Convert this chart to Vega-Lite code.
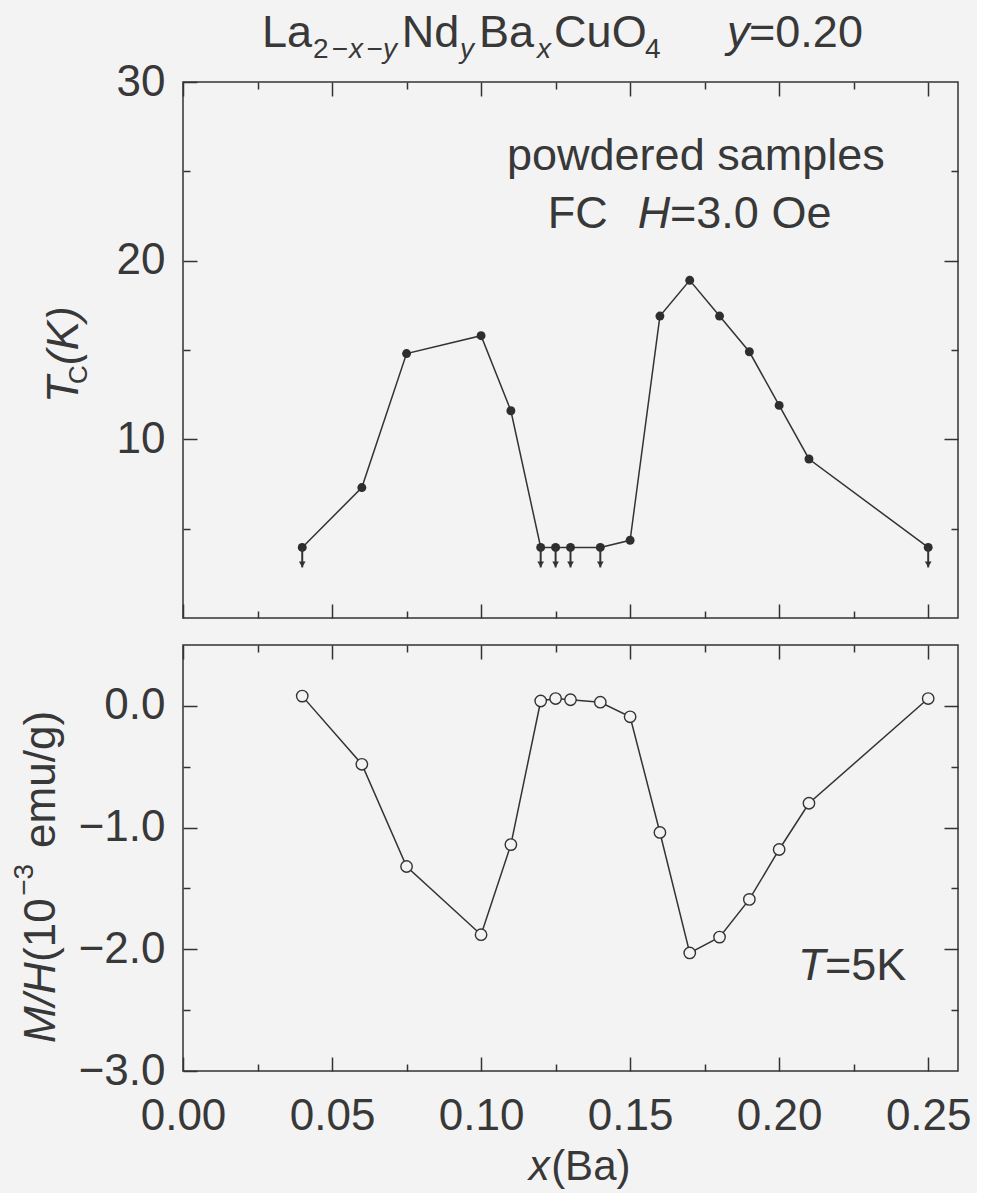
{
  "$schema": "https://vega.github.io/schema/vega-lite/v6.json",
  "background": "#f3f3f4",
  "padding": {"left": 10, "top": 10, "right": 5, "bottom": 5},
  "spacing": 23,
  "config": {
    "view": {"stroke": "#333333", "strokeWidth": 1.5},
    "axis": {"domain": false, "grid": false, "tickColor": "#333333", "tickWidth": 1.5, "labelFont": "Liberation Sans", "labelFontSize": 44, "labelColor": "#383838", "labelFlush": false, "labelOverlap": false, "labelBound": false},
    "text": {"font": "Liberation Sans", "color": "#383838"}
  },
  "datasets": {
    "tc": [
      {"x": 0.04, "y": 3.95, "limit": true},
      {"x": 0.06, "y": 7.3, "limit": false},
      {"x": 0.075, "y": 14.8, "limit": false},
      {"x": 0.10, "y": 15.8, "limit": false},
      {"x": 0.11, "y": 11.6, "limit": false},
      {"x": 0.12, "y": 3.95, "limit": true},
      {"x": 0.125, "y": 3.95, "limit": true},
      {"x": 0.13, "y": 3.95, "limit": true},
      {"x": 0.14, "y": 3.95, "limit": true},
      {"x": 0.15, "y": 4.35, "limit": false},
      {"x": 0.16, "y": 16.9, "limit": false},
      {"x": 0.17, "y": 18.9, "limit": false},
      {"x": 0.18, "y": 16.9, "limit": false},
      {"x": 0.19, "y": 14.9, "limit": false},
      {"x": 0.20, "y": 11.9, "limit": false},
      {"x": 0.21, "y": 8.9, "limit": false},
      {"x": 0.25, "y": 3.95, "limit": true}
    ],
    "mh": [
      {"x": 0.04, "y": 0.08},
      {"x": 0.06, "y": -0.48},
      {"x": 0.075, "y": -1.32},
      {"x": 0.10, "y": -1.88},
      {"x": 0.11, "y": -1.14},
      {"x": 0.12, "y": 0.04},
      {"x": 0.125, "y": 0.06},
      {"x": 0.13, "y": 0.05},
      {"x": 0.14, "y": 0.03},
      {"x": 0.15, "y": -0.09},
      {"x": 0.16, "y": -1.04},
      {"x": 0.17, "y": -2.03},
      {"x": 0.18, "y": -1.90},
      {"x": 0.19, "y": -1.59},
      {"x": 0.20, "y": -1.18},
      {"x": 0.21, "y": -0.80},
      {"x": 0.25, "y": 0.06}
    ],
    "topBig": [
      {"x": 0.0265, "y": 31.96, "t": "La"},
      {"x": 0.0734, "y": 31.96, "t": "Nd"},
      {"x": 0.0993, "y": 31.96, "t": "Ba"},
      {"x": 0.1245, "y": 31.96, "t": "CuO"},
      {"x": 0.1899, "y": 31.96, "t": "=0.20"},
      {"x": 0.1087, "y": 25.08, "t": "powdered samples"},
      {"x": 0.1224, "y": 21.83, "t": "FC"},
      {"x": 0.1634, "y": 21.83, "t": "=3.0 Oe"}
    ],
    "topBigIt": [
      {"x": 0.1825, "y": 31.96, "t": "y"},
      {"x": 0.1526, "y": 21.83, "t": "H"}
    ],
    "topSub": [
      {"x": 0.0436, "y": 31.34, "t": "2"},
      {"x": 0.0499, "y": 31.34, "t": "−"},
      {"x": 0.0616, "y": 31.34, "t": "−"},
      {"x": 0.1550, "y": 31.34, "t": "4"}
    ],
    "topSubIt": [
      {"x": 0.0557, "y": 31.34, "t": "x"},
      {"x": 0.0671, "y": 31.34, "t": "y"},
      {"x": 0.0929, "y": 31.34, "t": "y"},
      {"x": 0.1188, "y": 31.34, "t": "x"}
    ],
    "topRotIt": [
      {"x": -0.0352, "y": 12.04, "t": "T"},
      {"x": -0.0352, "y": 14.16, "t": "(K)"}
    ],
    "topRotSub": [
      {"x": -0.0322, "y": 13.10, "t": "C"}
    ],
    "botBig": [
      {"x": 0.2154, "y": -2.251, "t": "=5K"}
    ],
    "botBigIt": [
      {"x": 0.2063, "y": -2.251, "t": "T"}
    ],
    "xTitle": [
      {"x": 0.1235, "y": -3.895, "t": "(Ba)"}
    ],
    "xTitleIt": [
      {"x": 0.1160, "y": -3.895, "t": "x"}
    ],
    "botRotIt": [
      {"x": -0.0429, "y": -2.769, "t": "M/H"}
    ],
    "botRot": [
      {"x": -0.0429, "y": -2.104, "t": "(10"},
      {"x": -0.0429, "y": -1.167, "t": "emu/g)"}
    ],
    "botRotSup": [
      {"x": -0.0503, "y": -1.561, "t": "−3"}
    ]
  },
  "vconcat": [
    {
      "width": 775,
      "height": 536,
      "resolve": {"axis": {"x": "independent", "y": "independent"}},
      "layer": [
        {
          "mark": {"type": "rule", "color": "#333333", "strokeWidth": 1.5},
          "encoding": {
            "y": {"datum": 3.95, "type": "quantitative", "scale": {"domain": [0, 30], "nice": false, "zero": false}, "axis": null}
          }
        },
        {
          "data": {"name": "tc"},
          "mark": {"type": "line", "color": "#333333", "strokeWidth": 1.5},
          "encoding": {
            "x": {"field": "x", "type": "quantitative", "scale": {"domain": [0, 0.26], "nice": false, "zero": false},
                  "axis": {"orient": "bottom", "values": [0, 0.05, 0.1, 0.15, 0.2, 0.25], "tickSize": -14, "labels": false, "title": null}},
            "y": {"field": "y", "type": "quantitative", "scale": {"domain": [0, 30], "nice": false, "zero": false},
                  "axis": {"orient": "left", "values": [10, 20, 30], "tickSize": -14, "labelPadding": 32, "format": "d", "title": null}}
          }
        },
        {
          "data": {"name": "tc"},
          "mark": {"type": "point", "shape": "circle", "filled": true, "color": "#2e2e2e", "size": 80, "opacity": 1},
          "encoding": {
            "x": {"field": "x", "type": "quantitative", "scale": {"domain": [0, 0.26], "nice": false, "zero": false},
                  "axis": {"orient": "bottom", "values": [0.025, 0.075, 0.125, 0.175, 0.225], "tickSize": -7, "labels": false, "title": null}},
            "y": {"field": "y", "type": "quantitative", "scale": {"domain": [0, 30], "nice": false, "zero": false},
                  "axis": {"orient": "left", "values": [5, 15, 25], "tickSize": -7, "labels": false, "title": null}}
          }
        },
        {
          "data": {"name": "tc"},
          "transform": [{"filter": "datum.limit"}],
          "mark": {"type": "rule", "color": "#333333", "strokeWidth": 2, "y2Offset": 20},
          "encoding": {
            "x": {"field": "x", "type": "quantitative", "scale": {"domain": [0, 0.26], "nice": false, "zero": false}, "axis": null},
            "y": {"field": "y", "type": "quantitative", "scale": {"domain": [0, 30], "nice": false, "zero": false}, "axis": null},
            "y2": {"field": "y"}
          }
        },
        {
          "data": {"name": "tc"},
          "transform": [{"filter": "datum.limit"}],
          "mark": {"type": "point", "shape": "triangle-down", "filled": true, "color": "#333333", "size": 45, "opacity": 1, "yOffset": 17},
          "encoding": {
            "x": {"field": "x", "type": "quantitative", "scale": {"domain": [0, 0.26], "nice": false, "zero": false}, "axis": null},
            "y": {"field": "y", "type": "quantitative", "scale": {"domain": [0, 30], "nice": false, "zero": false}, "axis": null}
          }
        },
        {
          "data": {"name": "topBig"},
          "mark": {"type": "text", "align": "left", "baseline": "alphabetic", "fontSize": 45},
          "encoding": {
            "x": {"field": "x", "type": "quantitative", "scale": {"domain": [0, 0.26], "nice": false, "zero": false},
                  "axis": {"orient": "top", "values": [0, 0.05, 0.1, 0.15, 0.2, 0.25], "tickSize": -14, "labels": false, "title": null}},
            "y": {"field": "y", "type": "quantitative", "scale": {"domain": [0, 30], "nice": false, "zero": false},
                  "axis": {"orient": "right", "values": [10, 20], "tickSize": -14, "labels": false, "title": null}},
            "text": {"field": "t"}
          }
        },
        {
          "data": {"name": "topBigIt"},
          "mark": {"type": "text", "align": "left", "baseline": "alphabetic", "fontSize": 45, "fontStyle": "italic"},
          "encoding": {
            "x": {"field": "x", "type": "quantitative", "scale": {"domain": [0, 0.26], "nice": false, "zero": false},
                  "axis": {"orient": "top", "values": [0.025, 0.075, 0.125, 0.175, 0.225], "tickSize": -7, "labels": false, "title": null}},
            "y": {"field": "y", "type": "quantitative", "scale": {"domain": [0, 30], "nice": false, "zero": false},
                  "axis": {"orient": "right", "values": [5, 15, 25], "tickSize": -7, "labels": false, "title": null}},
            "text": {"field": "t"}
          }
        },
        {
          "data": {"name": "topSub"},
          "mark": {"type": "text", "align": "left", "baseline": "alphabetic", "fontSize": 28},
          "encoding": {
            "x": {"field": "x", "type": "quantitative", "scale": {"domain": [0, 0.26], "nice": false, "zero": false}, "axis": null},
            "y": {"field": "y", "type": "quantitative", "scale": {"domain": [0, 30], "nice": false, "zero": false}, "axis": null},
            "text": {"field": "t"}
          }
        },
        {
          "data": {"name": "topSubIt"},
          "mark": {"type": "text", "align": "left", "baseline": "alphabetic", "fontSize": 28, "fontStyle": "italic"},
          "encoding": {
            "x": {"field": "x", "type": "quantitative", "scale": {"domain": [0, 0.26], "nice": false, "zero": false}, "axis": null},
            "y": {"field": "y", "type": "quantitative", "scale": {"domain": [0, 30], "nice": false, "zero": false}, "axis": null},
            "text": {"field": "t"}
          }
        },
        {
          "data": {"name": "topRotIt"},
          "mark": {"type": "text", "align": "left", "baseline": "alphabetic", "fontSize": 44, "fontStyle": "italic", "angle": 270},
          "encoding": {
            "x": {"field": "x", "type": "quantitative", "scale": {"domain": [0, 0.26], "nice": false, "zero": false}, "axis": null},
            "y": {"field": "y", "type": "quantitative", "scale": {"domain": [0, 30], "nice": false, "zero": false}, "axis": null},
            "text": {"field": "t"}
          }
        },
        {
          "data": {"name": "topRotSub"},
          "mark": {"type": "text", "align": "left", "baseline": "alphabetic", "fontSize": 26, "angle": 270},
          "encoding": {
            "x": {"field": "x", "type": "quantitative", "scale": {"domain": [0, 0.26], "nice": false, "zero": false}, "axis": null},
            "y": {"field": "y", "type": "quantitative", "scale": {"domain": [0, 30], "nice": false, "zero": false}, "axis": null},
            "text": {"field": "t"}
          }
        }
      ]
    },
    {
      "width": 775,
      "height": 426,
      "resolve": {"axis": {"x": "independent", "y": "independent"}},
      "layer": [
        {
          "mark": {"type": "rule", "color": "#333333", "strokeWidth": 1.5},
          "encoding": {
            "y": {"datum": 0, "type": "quantitative", "scale": {"domain": [-3, 0.5], "nice": false, "zero": false}, "axis": null}
          }
        },
        {
          "data": {"name": "mh"},
          "mark": {"type": "line", "color": "#333333", "strokeWidth": 1.5},
          "encoding": {
            "x": {"field": "x", "type": "quantitative", "scale": {"domain": [0, 0.26], "nice": false, "zero": false},
                  "axis": {"orient": "bottom", "values": [0, 0.05, 0.1, 0.15, 0.2, 0.25], "tickSize": -14, "labelPadding": 37, "format": ".2f", "title": null}},
            "y": {"field": "y", "type": "quantitative", "scale": {"domain": [-3, 0.5], "nice": false, "zero": false},
                  "axis": {"orient": "left", "values": [0, -1, -2, -3], "tickSize": -14, "labelPadding": 32, "format": ".1f", "title": null}}
          }
        },
        {
          "data": {"name": "mh"},
          "mark": {"type": "point", "shape": "circle", "filled": true, "fill": "#f3f3f4", "stroke": "#333333", "strokeWidth": 1.4, "size": 130, "opacity": 1},
          "encoding": {
            "x": {"field": "x", "type": "quantitative", "scale": {"domain": [0, 0.26], "nice": false, "zero": false},
                  "axis": {"orient": "bottom", "values": [0.025, 0.075, 0.125, 0.175, 0.225], "tickSize": -7, "labels": false, "title": null}},
            "y": {"field": "y", "type": "quantitative", "scale": {"domain": [-3, 0.5], "nice": false, "zero": false},
                  "axis": {"orient": "left", "values": [-0.5, -1.5, -2.5], "tickSize": -7, "labels": false, "title": null}}
          }
        },
        {
          "data": {"name": "botBig"},
          "mark": {"type": "text", "align": "left", "baseline": "alphabetic", "fontSize": 45},
          "encoding": {
            "x": {"field": "x", "type": "quantitative", "scale": {"domain": [0, 0.26], "nice": false, "zero": false},
                  "axis": {"orient": "top", "values": [0, 0.05, 0.1, 0.15, 0.2, 0.25], "tickSize": -14, "labels": false, "title": null}},
            "y": {"field": "y", "type": "quantitative", "scale": {"domain": [-3, 0.5], "nice": false, "zero": false},
                  "axis": {"orient": "right", "values": [0, -1, -2], "tickSize": -14, "labels": false, "title": null}},
            "text": {"field": "t"}
          }
        },
        {
          "data": {"name": "botBigIt"},
          "mark": {"type": "text", "align": "left", "baseline": "alphabetic", "fontSize": 45, "fontStyle": "italic"},
          "encoding": {
            "x": {"field": "x", "type": "quantitative", "scale": {"domain": [0, 0.26], "nice": false, "zero": false},
                  "axis": {"orient": "top", "values": [0.025, 0.075, 0.125, 0.175, 0.225], "tickSize": -7, "labels": false, "title": null}},
            "y": {"field": "y", "type": "quantitative", "scale": {"domain": [-3, 0.5], "nice": false, "zero": false},
                  "axis": {"orient": "right", "values": [-0.5, -1.5, -2.5], "tickSize": -7, "labels": false, "title": null}},
            "text": {"field": "t"}
          }
        },
        {
          "data": {"name": "xTitle"},
          "mark": {"type": "text", "align": "left", "baseline": "alphabetic", "fontSize": 42},
          "encoding": {
            "x": {"field": "x", "type": "quantitative", "scale": {"domain": [0, 0.26], "nice": false, "zero": false}, "axis": null},
            "y": {"field": "y", "type": "quantitative", "scale": {"domain": [-3, 0.5], "nice": false, "zero": false}, "axis": null},
            "text": {"field": "t"}
          }
        },
        {
          "data": {"name": "xTitleIt"},
          "mark": {"type": "text", "align": "left", "baseline": "alphabetic", "fontSize": 42, "fontStyle": "italic"},
          "encoding": {
            "x": {"field": "x", "type": "quantitative", "scale": {"domain": [0, 0.26], "nice": false, "zero": false}, "axis": null},
            "y": {"field": "y", "type": "quantitative", "scale": {"domain": [-3, 0.5], "nice": false, "zero": false}, "axis": null},
            "text": {"field": "t"}
          }
        },
        {
          "data": {"name": "botRotIt"},
          "mark": {"type": "text", "align": "left", "baseline": "alphabetic", "fontSize": 44, "fontStyle": "italic", "angle": 270},
          "encoding": {
            "x": {"field": "x", "type": "quantitative", "scale": {"domain": [0, 0.26], "nice": false, "zero": false}, "axis": null},
            "y": {"field": "y", "type": "quantitative", "scale": {"domain": [-3, 0.5], "nice": false, "zero": false}, "axis": null},
            "text": {"field": "t"}
          }
        },
        {
          "data": {"name": "botRot"},
          "mark": {"type": "text", "align": "left", "baseline": "alphabetic", "fontSize": 44, "angle": 270},
          "encoding": {
            "x": {"field": "x", "type": "quantitative", "scale": {"domain": [0, 0.26], "nice": false, "zero": false}, "axis": null},
            "y": {"field": "y", "type": "quantitative", "scale": {"domain": [-3, 0.5], "nice": false, "zero": false}, "axis": null},
            "text": {"field": "t"}
          }
        },
        {
          "data": {"name": "botRotSup"},
          "mark": {"type": "text", "align": "left", "baseline": "alphabetic", "fontSize": 28, "angle": 270},
          "encoding": {
            "x": {"field": "x", "type": "quantitative", "scale": {"domain": [0, 0.26], "nice": false, "zero": false}, "axis": null},
            "y": {"field": "y", "type": "quantitative", "scale": {"domain": [-3, 0.5], "nice": false, "zero": false}, "axis": null},
            "text": {"field": "t"}
          }
        }
      ]
    }
  ]
}
